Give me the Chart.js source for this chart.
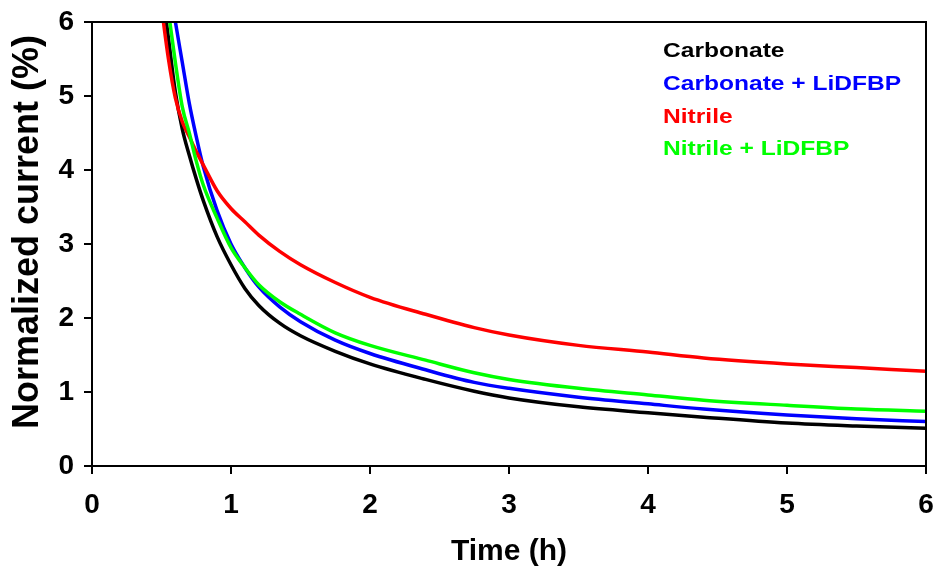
<!DOCTYPE html>
<html>
<head>
<meta charset="utf-8">
<script src="https://cdn.jsdelivr.net/npm/chart.js@4.4.1/dist/chart.umd.min.js"></script>
<style>
  body { margin: 0; background: #fff; }
</style>
</head>
<body>
<canvas id="mycanvas" width="941" height="583"></canvas>
<script>
// time (h) and normalized current (%)
var times = [0.5, 0.55, 0.6, 0.65, 0.7, 0.75, 0.8, 0.9, 1.0, 1.1, 1.2, 1.35, 1.5, 1.75, 2.0, 2.4, 2.75, 3.0, 3.5, 4.0, 4.4, 5.0, 5.5, 6.0];
var carbonate       = [6.5, 5.78, 5.05, 4.55, 4.2, 3.88, 3.59, 3.1, 2.72, 2.4, 2.17, 1.93, 1.76, 1.55, 1.38, 1.17, 1.01, 0.92, 0.8, 0.72, 0.66, 0.58, 0.54, 0.51];
var carbonateLiDFBP = [7.3, 6.6, 6.0, 5.45, 4.9, 4.45, 4.05, 3.45, 3.0, 2.68, 2.42, 2.15, 1.95, 1.7, 1.52, 1.3, 1.13, 1.05, 0.93, 0.84, 0.77, 0.69, 0.64, 0.6];
var nitrile         = [6.2, 5.5, 4.97, 4.65, 4.45, 4.25, 4.07, 3.72, 3.48, 3.3, 3.12, 2.9, 2.72, 2.48, 2.28, 2.05, 1.87, 1.77, 1.63, 1.54, 1.46, 1.38, 1.33, 1.28];
var nitrileLiDFBP   = [6.8, 6.14, 5.45, 4.85, 4.5, 4.12, 3.8, 3.35, 2.95, 2.68, 2.45, 2.22, 2.05, 1.8, 1.63, 1.43, 1.26, 1.17, 1.05, 0.96, 0.89, 0.82, 0.77, 0.74];

var seriesNames = ["Carbonate", "Carbonate + LiDFBP", "Nitrile", "Nitrile + LiDFBP"];
var seriesColors = ["#000000", "#0000ff", "#ff0000", "#00ff00"];
var seriesValues = [carbonate, carbonateLiDFBP, nitrile, nitrileLiDFBP];
var drawOrder = [4, 3, 2, 1];

function toPoints(vals) {
    return vals.map(function(v, i) { return { x: times[i], y: v }; });
}

var datasets = [];
for (var i in seriesNames) {
    datasets.push({
        label: seriesNames[i],
        data: toPoints(seriesValues[i]),
        borderColor: seriesColors[i],
        backgroundColor: seriesColors[i],
        borderWidth: 3.5,
        pointRadius: 0,
        fill: false,
        cubicInterpolationMode: 'monotone',
        order: drawOrder[i],
        clip: 0
    });
}

// frame, text legend and axis titles
var extras = {
    id: 'extras',
    afterDraw: function(chart) {
        var ctx = chart.ctx;
        var a = chart.chartArea;
        ctx.save();
        ctx.strokeStyle = '#000';
        ctx.lineWidth = 2;
        ctx.beginPath();
        ctx.moveTo(a.left, a.top);
        ctx.lineTo(a.right, a.top);
        ctx.lineTo(a.right, a.bottom);
        ctx.stroke();

        ctx.font = 'bold 21px "Liberation Sans", Arial, sans-serif';
        ctx.textBaseline = 'middle';
        ctx.textAlign = 'left';
        var ys = [51, 84, 117, 149];
        for (var i = 0; i < seriesNames.length; i++) {
            ctx.save();
            ctx.translate(663, ys[i]);
            ctx.scale(1.17, 1);
            ctx.fillStyle = seriesColors[i];
            ctx.fillText(seriesNames[i], 0, 0);
            ctx.restore();
        }

        ctx.fillStyle = '#000';
        ctx.textAlign = 'center';
        ctx.font = 'bold 30px "Liberation Sans", Arial, sans-serif';
        ctx.fillText('Time (h)', (a.left + a.right) / 2, 552);

        ctx.translate(28, 232);
        ctx.rotate(-Math.PI / 2);
        ctx.font = 'bold 36px "Liberation Sans", Arial, sans-serif';
        ctx.fillText('Normalized current (%)', 0, 0);
        ctx.restore();
    }
};

var tickFont = { family: '"Liberation Sans", Arial, sans-serif', size: 28, weight: 'bold' };

var ctx = document.getElementById('mycanvas');
var lineGraph = new Chart(ctx, {
    type: 'line',
    data: { datasets: datasets },
    options: {
        responsive: false,
        animation: false,
        layout: { padding: { left: 0, right: 15, top: 22, bottom: 0 } },
        plugins: { legend: { display: false }, tooltip: { enabled: false } },
        scales: {
            x: {
                type: 'linear',
                min: 0,
                max: 6,
                ticks: { stepSize: 1, color: '#000', font: tickFont, padding: 14, maxRotation: 0 },
                grid: { drawOnChartArea: false, drawTicks: true, tickLength: 8, color: '#000', lineWidth: 2 },
                border: { color: '#000', width: 2 },
                afterFit: function(s) {
                    s.height = 117;
                    s.paddingLeft = 0;
                    s.paddingRight = 0;
                }
            },
            y: {
                min: 0,
                max: 6,
                ticks: { stepSize: 1, color: '#000', font: tickFont, padding: 10 },
                grid: { drawOnChartArea: false, drawTicks: true, tickLength: 8, color: '#000', lineWidth: 2 },
                border: { color: '#000', width: 2 },
                afterFit: function(s) {
                    s.width = 92;
                    s.paddingTop = 0;
                    s.paddingBottom = 0;
                }
            }
        }
    },
    plugins: [extras]
});
</script>
</body>
</html>
